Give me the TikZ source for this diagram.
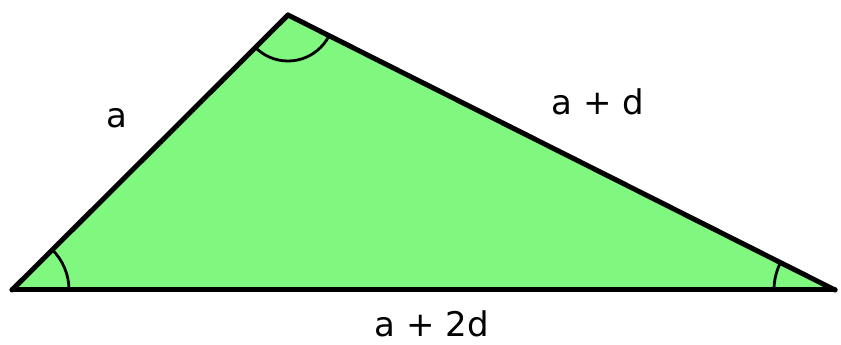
\documentclass[tikz,border=0pt]{standalone}
\usepackage{fontspec}
\setmainfont{DejaVu Sans}
\definecolor{trifill}{HTML}{80F880}
\begin{document}
\begin{tikzpicture}[x=1pt,y=1pt,
  edge/.style={line width=5pt,line cap=round,line join=round},
  anglearc/.style={line width=2.8pt},
  lbl/.style={font=\fontsize{34}{40}\selectfont,inner sep=0pt}]
\useasboundingbox (0,0) rectangle (841,345);
\coordinate (L) at (12,55);
\coordinate (T) at (288,330);
\coordinate (R) at (835,55);
\fill[trifill] (L) -- (T) -- (R) -- cycle;
\begin{scope}
  \clip (L) -- (T) -- (R) -- cycle;
  \draw[anglearc] (T) circle (46);
  \draw[anglearc] (L) circle (57);
  \draw[anglearc] (R) circle (61);
\end{scope}
\draw[edge] (L) -- (T);
\draw[edge] (T) -- (R);
\draw[edge] (R) -- (L);
\node[lbl] (la) at (117,227) {a};
\node[lbl] (lad) at (598,243) {a + d};
\node[lbl] (la2d) at (432,21) {a + 2d};
\end{tikzpicture}
\end{document}
